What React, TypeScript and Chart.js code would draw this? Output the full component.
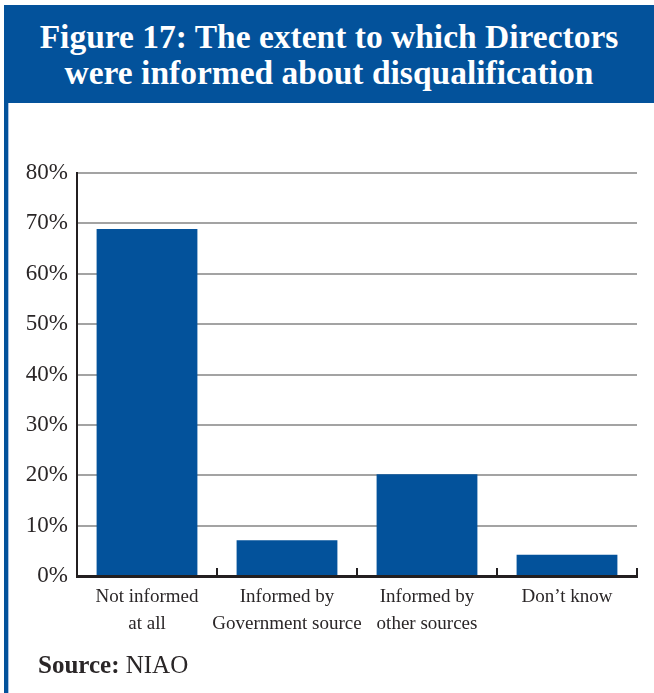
import React, { useEffect, useRef } from "react";
import { Chart, registerables } from "chart.js";

Chart.register(...registerables);

const categories: string[][] = [
  ["Not informed", "at all"],
  ["Informed by", "Government source"],
  ["Informed by", "other sources"],
  ["Don\u2019t know"],
];
const values: number[] = [68.9, 7.1, 20.2, 4.2];
const yTicks: number[] = [0, 10, 20, 30, 40, 50, 60, 70, 80];

const BLUE = "#03529b";
const TEXT = "#2a2627";
const SERIF = "'Liberation Serif', 'Times New Roman', serif";

const innerTicks = {
  id: "innerTicks",
  afterDraw(chart: any) {
    const x = chart.scales.x;
    const { ctx, chartArea } = chart;
    const n = chart.data.labels.length;
    const w = (x.getPixelForValue(1) - x.getPixelForValue(0)) || 0;
    ctx.save();
    ctx.strokeStyle = "#231f20";
    ctx.lineWidth = 2;
    for (let i = 0; i < n; i++) {
      const px = x.getPixelForValue(i) + w / 2;
      ctx.beginPath();
      ctx.moveTo(px, chartArea.bottom);
      ctx.lineTo(px, chartArea.bottom - 8);
      ctx.stroke();
    }
    ctx.restore();
  },
};

export default function App() {
  const ref = useRef<HTMLCanvasElement>(null);
  useEffect(() => {
    if (!ref.current) return;
    const chart = new Chart(ref.current, {
      type: "bar",
      data: {
        labels: categories,
        datasets: [
          {
            data: values,
            backgroundColor: BLUE,
            borderWidth: 0,
            barPercentage: 0.72,
            categoryPercentage: 1,
          },
        ],
      },
      options: {
        animation: false,
        responsive: false,
        maintainAspectRatio: false,
        layout: { padding: { top: 23, right: 17, left: 0, bottom: 0 } },
        plugins: { legend: { display: false }, tooltip: { enabled: false } },
        scales: {
          x: {
            grid: { display: false },
            border: { display: true, color: "#231f20", width: 3 },
            ticks: {
              color: TEXT,
              font: { family: SERIF, size: 19, lineHeight: 1.42 },
              padding: 0,
              maxRotation: 0,
              autoSkip: false,
            },
            afterFit(s: any) {
              s.height = 117;
            },
          },
          y: {
            min: 0,
            max: 80,
            afterBuildTicks(s: any) {
              s.ticks = yTicks.map((v) => ({ value: v }));
            },
            grid: { color: "#a3a3a3", lineWidth: 2, drawTicks: false },
            border: { display: true, color: "#231f20", width: 2 },
            ticks: {
              color: TEXT,
              font: { family: SERIF, size: 23 },
              padding: 9,
              callback: (v: any) => v + "%",
            },
            afterFit(s: any) {
              s.width = 77;
            },
          },
        },
      },
      plugins: [innerTicks],
    });
    return () => chart.destroy();
  }, []);

  return (
    <div
      style={{
        position: "fixed",
        left: 0,
        top: 0,
        width: 654,
        height: 693,
        background: "#fff",
        overflow: "hidden",
      }}
    >
      <div
        style={{
          position: "absolute",
          left: 4,
          top: 5,
          width: 650,
          height: 98,
          background: BLUE,
          color: "#fff",
          fontFamily: SERIF,
          fontWeight: "bold",
          fontSize: 33.5,
          lineHeight: "36px",
          textAlign: "center",
          paddingTop: 14,
          boxSizing: "border-box",
          whiteSpace: "nowrap",
        }}
      >
        Figure 17: The extent to which Directors
        <br />
        were informed about disqualification
      </div>
      <div
        style={{
          position: "absolute",
          left: 4,
          top: 103,
          width: 4,
          height: 590,
          background: BLUE,
        }}
      />
      <div
        style={{
          position: "absolute",
          left: 8,
          top: 103,
          width: 1,
          height: 590,
          background: "#a9c4e4",
        }}
      />
      <canvas
        ref={ref}
        width={654}
        height={543}
        style={{ position: "absolute", left: 0, top: 150, width: 654, height: 543 }}
      />
      <div
        style={{
          position: "absolute",
          left: 38,
          top: 650,
          fontFamily: SERIF,
          fontSize: 25,
          lineHeight: "30px",
          color: TEXT,
          whiteSpace: "nowrap",
        }}
      >
        <b>Source:</b> NIAO
      </div>
    </div>
  );
}
